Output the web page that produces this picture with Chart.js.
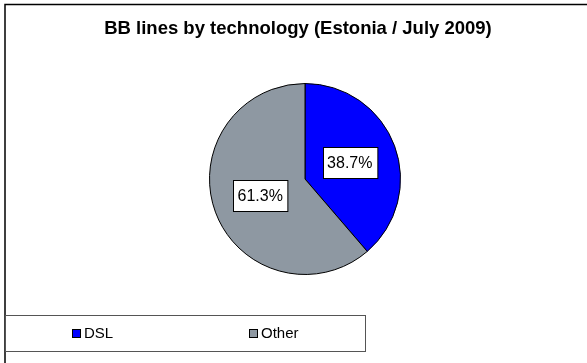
<!DOCTYPE html>
<html>
<head>
<meta charset="utf-8">
<script src="https://cdn.jsdelivr.net/npm/chart.js@4/dist/chart.umd.min.js"></script>
<style>
  html, body { margin: 0; padding: 0; background: #fff; }
  #wrap { width: 587px; height: 363px; position: relative; }
</style>
</head>
<body>
<div id="wrap"><canvas id="myChart" width="587" height="363"></canvas></div>
<script>
var chartTitle = 'BB lines by technology (Estonia / July 2009)';
var categories = ['DSL', 'Other'];
var shares = [38.7, 61.3];
var colors = ['#0000FF', '#8E98A2'];

// frame, title, value boxes and the legend box
var decor = {
    id: 'decor',
    beforeDraw: function (chart) {
        var c = chart.ctx;
        c.save();
        c.fillStyle = '#fff';
        c.fillRect(0, 0, chart.width, chart.height);
        c.strokeStyle = '#000';
        c.lineWidth = 1.5;
        c.beginPath();
        c.moveTo(5, chart.height + 2);
        c.lineTo(5, 4.5);
        c.lineTo(chart.width + 2, 4.5);
        c.stroke();
        c.fillStyle = '#000';
        c.font = 'bold 18.5px "Liberation Sans", Arial, sans-serif';
        c.textAlign = 'center';
        c.textBaseline = 'middle';
        c.fillText(chartTitle, 298, 29);
        c.restore();
    },
    afterDraw: function (chart) {
        var c = chart.ctx;
        var meta = chart.getDatasetMeta(0);
        c.save();
        c.font = '16px "Liberation Sans", Arial, sans-serif';
        c.textAlign = 'center';
        c.textBaseline = 'middle';
        meta.data.forEach(function (arc, i) {
            var p = arc.tooltipPosition();
            var txt = shares[i].toFixed(1) + '%';
            var w = c.measureText(txt).width + 9;
            var h = 31;
            var x = Math.round(p.x - w / 2) + 0.5, y = Math.round(p.y - h / 2) + 0.5;
            c.fillStyle = '#fff';
            c.fillRect(x, y, w, h);
            c.strokeStyle = '#000';
            c.lineWidth = 1;
            c.strokeRect(x, y, w, h);
            c.fillStyle = '#000';
            c.fillText(txt, p.x, p.y + 1);
        });

        // legend box
        c.strokeStyle = '#555';
        c.lineWidth = 1;
        c.strokeRect(5.5, 315.5, 360, 36);
        var lx = [72, 249];
        c.font = '15px "Liberation Sans", Arial, sans-serif';
        c.textAlign = 'left';
        categories.forEach(function (name, i) {
            c.fillStyle = colors[i];
            c.fillRect(lx[i] + 0.5, 329.5, 8, 8);
            c.strokeStyle = '#000';
            c.strokeRect(lx[i] + 0.5, 329.5, 8, 8);
            c.fillStyle = '#000';
            c.fillText(name, lx[i] + 12, 334);
        });
        c.restore();
    }
};

var ctx = document.getElementById('myChart').getContext('2d');
var chart = new Chart(ctx, {
    type: 'pie',
    data: {
        labels: categories,
        datasets: [{
            data: shares,
            backgroundColor: colors,
            borderColor: '#000',
            borderWidth: 1,
            hoverOffset: 0
        }]
    },
    options: {
        responsive: false,
        animation: false,
        layout: { padding: { left: 209, right: 186, top: 83, bottom: 88 } },
        plugins: {
            legend: { display: false },
            title: { display: false },
            tooltip: { enabled: false }
        }
    },
    plugins: [decor]
});
</script>
</body>
</html>
